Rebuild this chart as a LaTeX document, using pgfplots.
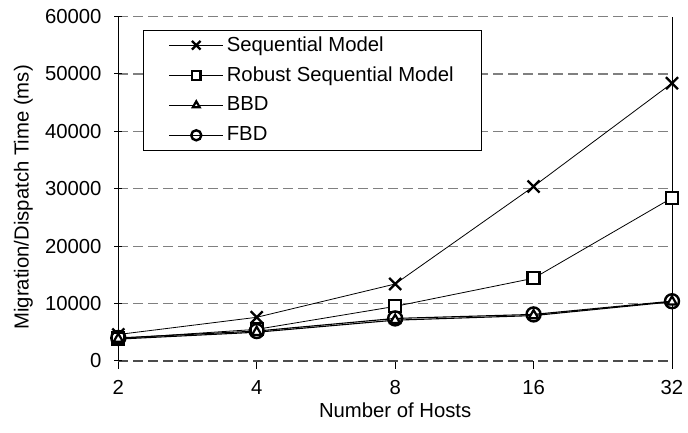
\documentclass[border=0pt]{standalone}
\usepackage{fontspec}
\setmainfont{Liberation Sans}
\usepackage{pgfplots}
\pgfplotsset{compat=1.18}
\begin{document}
\fontsize{20.3bp}{24bp}\selectfont
\begin{tikzpicture}
\useasboundingbox (-118.3bp,-71.4bp) rectangle (569.7bp,360.9bp);
\begin{axis}[
  at={(0,0)}, anchor=south west,
  scale only axis, width=553.7bp, height=344.3bp,
  xmin=0, xmax=4, ymin=0, ymax=60000,
  xtick={0,1,2,3,4}, xticklabels={2,4,8,16,32},
  ytick={10000,20000,30000,40000,50000,60000},
  extra y ticks={0},
  extra y tick style={grid style={black!70, dash pattern=on 10bp off 5bp, line width=1.2bp}},
  scaled y ticks=false,
  /pgf/number format/1000 sep={},
  /pgf/number format/assume math mode=true,
  ymajorgrids,
  grid style={gray, dash pattern=on 10bp off 5bp, line width=1.2bp},
  separate axis lines,
  every outer x axis line/.append style={draw=none},
  every outer y axis line/.append style={black, line width=1bp},
  xtick pos=bottom, ytick pos=left,
  xtick align=outside, ytick align=center,
  major tick length=8bp,
  tick style={black, line width=1bp},
  xticklabel style={inner sep=0pt},
  yticklabel style={inner sep=0pt},
  xticklabel shift=11bp,
  yticklabel shift=12.6bp,
  xlabel={Number of Hosts},
  ylabel={Migration/Dispatch Time (ms)},
  every axis x label/.style={at={([yshift=-42bp]rel axis cs:0.5,0)}, anchor=north, inner sep=0pt},
  every axis y label/.style={at={([xshift=-85.3bp]rel axis cs:0,0.475)}, anchor=south, rotate=90, inner sep=0pt},
  legend image code/.code={
    \draw[mark repeat=2, mark phase=2, #1, every mark/.append style={scale=0.72}]
      plot coordinates {(0bp,0bp) (27bp,0bp) (54bp,0bp)};
  },
  legend style={at={(rel axis cs:0.0452,0.9614)}, anchor=north west,
    draw=black, line width=0.8bp, fill=white,
    inner xsep=25bp, inner ysep=0bp, row sep=0pt,
    nodes={inner xsep=3bp, inner ysep=0pt, minimum height=30bp},
    cells={anchor=west}},
  legend cell align=left,
  clip=false,
]
\addplot[black, line width=0.8bp, mark=x, mark size=8.5bp, mark options={solid, line width=2.3bp}]
  coordinates {(0,4600) (1,7600) (2,13400) (3,30400) (4,48400)};
\addlegendentry{Sequential Model}
\addplot[black, line width=0.8bp, mark=square*, mark size=6bp, mark options={solid, fill=white, line width=2.2bp}]
  coordinates {(0,3900) (1,5500) (2,9500) (3,14400) (4,28400)};
\addlegendentry{Robust Sequential Model}
\addplot[black, line width=1.1bp, mark=triangle*, mark size=5.5bp, mark options={solid, fill=white, line width=2.2bp}]
  coordinates {(0,3800) (1,5000) (2,7100) (3,7900) (4,10300)};
\addlegendentry{BBD}
\addplot[black, line width=1.1bp, mark=o, mark size=7bp, mark options={solid, line width=2.4bp}]
  coordinates {(0,4000) (1,5200) (2,7400) (3,8100) (4,10400)};
\addlegendentry{FBD}
\end{axis}
\end{tikzpicture}
\end{document}
